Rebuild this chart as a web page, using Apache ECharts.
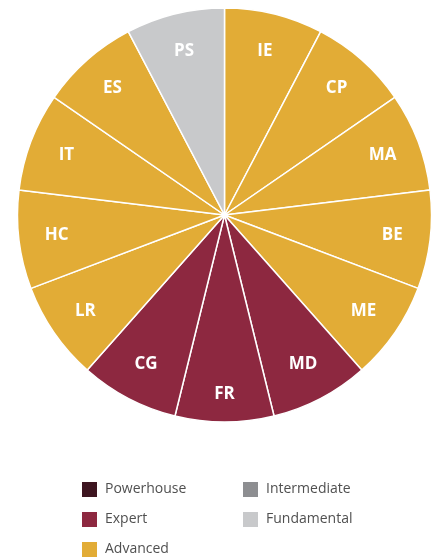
<!DOCTYPE html>
<html>
<head>
<meta charset="utf-8">
<script src="https://cdn.jsdelivr.net/npm/echarts@6/dist/echarts.min.js"></script>
<style>
  html, body { margin: 0; padding: 0; background: #fff; }
  #chart { width: 440px; height: 557px; }
</style>
</head>
<body>
<div id="chart"></div>
<script>
// Capability areas, clockwise from 12 o'clock
const areas = ['IE', 'CP', 'MA', 'BE', 'ME', 'MD', 'FR', 'CG', 'LR', 'HC', 'IT', 'ES', 'PS'];
// Every area gets an equal share of the wheel
const shares = [1, 1, 1, 1, 1, 1, 1, 1, 1, 1, 1, 1, 1];
// Maturity level reached by each area
const levelOf = ['Advanced', 'Advanced', 'Advanced', 'Advanced', 'Advanced', 'Expert', 'Expert', 'Expert',
                 'Advanced', 'Advanced', 'Advanced', 'Advanced', 'Fundamental'];
// Legend order
const levels = ['Powerhouse', 'Intermediate', 'Expert', 'Fundamental', 'Advanced'];
const levelColors = {
  Powerhouse: '#3e1520',
  Intermediate: '#8d8e91',
  Expert: '#8d2840',
  Fundamental: '#c8c9cb',
  Advanced: '#e2ac36'
};

const center = [224.5, 215];
const R = 207;

const wheelData = areas.map((name, i) => ({
  name,
  value: shares[i],
  itemStyle: { color: levelColors[levelOf[i]] }
}));

// Transparent ring carrying the labels so they sit near the rim;
// the bottom label is nudged a little further out
const labelData = areas.map((name, i) => {
  const d = { name, value: shares[i] };
  if (name === 'FR') d.label = { offset: [0, 10] };
  return d;
});

const levelSeries = levels.map(l => ({
  type: 'pie',
  name: l,
  data: [],
  color: levelColors[l],
  itemStyle: { color: levelColors[l] },
  silent: true
}));

const legendText = { fontFamily: 'Open Sans', fontSize: 14, color: '#505050', padding: [0, 0, 0, 3] };
const legendBase = {
  orient: 'vertical', top: 482, height: 80, padding: 0,
  itemWidth: 15, itemHeight: 15, itemGap: 15, icon: 'rect',
  textStyle: legendText, selectedMode: false
};

const chart = echarts.init(document.getElementById('chart'), null, { renderer: 'canvas' });
chart.setOption({
  animation: false,
  legend: [
    Object.assign({}, legendBase, { left: 82, data: ['Powerhouse', 'Expert', 'Advanced'] }),
    Object.assign({}, legendBase, { left: 243, data: ['Intermediate', 'Fundamental'] })
  ],
  series: [
    {
      type: 'pie',
      name: 'wheel',
      center,
      radius: [0, R],
      startAngle: 90,
      clockwise: true,
      silent: true,
      label: { show: false },
      labelLine: { show: false },
      itemStyle: { borderColor: '#ffffff', borderWidth: 1.5 },
      data: wheelData
    },
    {
      type: 'pie',
      name: 'labels',
      center,
      radius: [125, R],
      startAngle: 90,
      clockwise: true,
      silent: true,
      itemStyle: { color: 'rgba(0,0,0,0)' },
      label: {
        show: true, position: 'inside',
        fontFamily: 'Open Sans', fontWeight: 'bold', fontSize: 17, color: '#ffffff'
      },
      labelLine: { show: false },
      data: labelData
    },
    ...levelSeries
  ]
});
</script>
</body>
</html>
